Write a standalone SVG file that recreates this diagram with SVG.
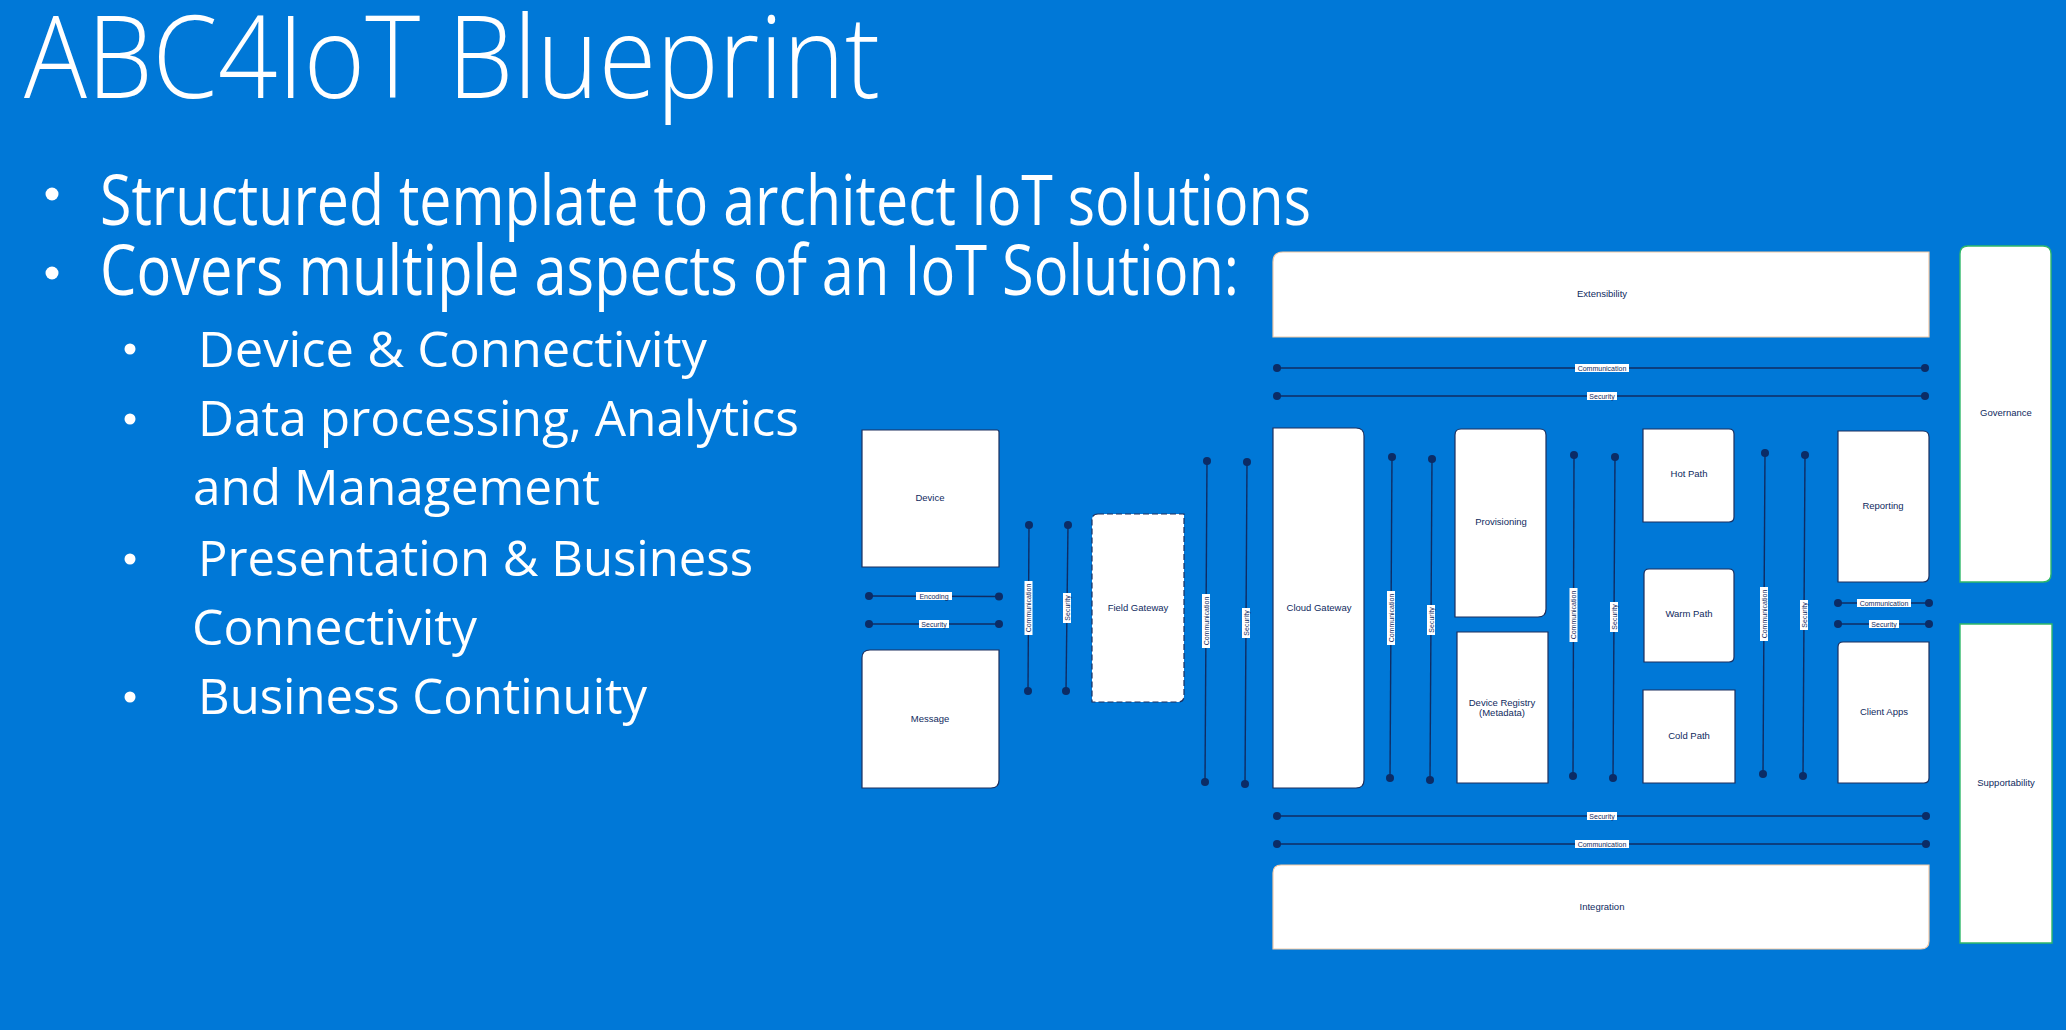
<svg xmlns="http://www.w3.org/2000/svg" width="2066" height="1030" viewBox="0 0 2066 1030">
<style>
.ttl{font-family:"Open Sans","Segoe UI","Liberation Sans",sans-serif;font-weight:300;fill:#ffffff}
.bul{font-family:"Open Sans","Segoe UI","Liberation Sans",sans-serif;font-weight:400;fill:#ffffff}
.box{fill:#ffffff;stroke:#1c2f5e;stroke-width:1.2}
.band{fill:#ffffff;stroke:#f2c9a6;stroke-width:1.2}
.side{fill:#ffffff;stroke:#2fb86a;stroke-width:1.4}
.dash{stroke-dasharray:6 3}
.lbl{font-family:"Liberation Sans",Arial,sans-serif;font-size:9.5px;fill:#0f2a5e;text-anchor:middle}
.ln{stroke:#0f2c63;stroke-width:1.4;fill:none}
.dot{fill:#0b2c66}
.cl{fill:#ffffff}
.ct{font-family:"Liberation Sans",Arial,sans-serif;font-size:7px;fill:#0f2a5e;text-anchor:middle}
</style>
<rect x="0" y="0" width="2066" height="1030" fill="#0078d7"/>
<g id="title">
<text class="ttl" x="24" y="98" font-size="114" textLength="856" lengthAdjust="spacingAndGlyphs">ABC4IoT Blueprint</text>
</g>
<g id="bullets">
<circle cx="52" cy="194" r="6.5" fill="#fff"/>
<circle cx="52" cy="273" r="6.5" fill="#fff"/>
<circle cx="130" cy="349" r="5.5" fill="#fff"/>
<circle cx="130" cy="419" r="5.5" fill="#fff"/>
<circle cx="130" cy="559" r="5.5" fill="#fff"/>
<circle cx="130" cy="697" r="5.5" fill="#fff"/>
<text class="bul" x="100" y="225" font-size="70" textLength="1211" lengthAdjust="spacingAndGlyphs">Structured template to architect IoT solutions</text>
<text class="bul" x="100" y="295" font-size="70" textLength="1139" lengthAdjust="spacingAndGlyphs">Covers multiple aspects of an IoT Solution:</text>
<text class="bul" x="198" y="367" font-size="49" textLength="509" lengthAdjust="spacingAndGlyphs">Device &amp; Connectivity</text>
<text class="bul" x="198" y="436" font-size="49" textLength="601" lengthAdjust="spacingAndGlyphs">Data processing, Analytics</text>
<text class="bul" x="193" y="505" font-size="49" textLength="407" lengthAdjust="spacingAndGlyphs">and Management</text>
<text class="bul" x="198" y="576" font-size="49" textLength="555" lengthAdjust="spacingAndGlyphs">Presentation &amp; Business</text>
<text class="bul" x="192" y="645" font-size="49" textLength="285" lengthAdjust="spacingAndGlyphs">Connectivity</text>
<text class="bul" x="198" y="714" font-size="49" textLength="449" lengthAdjust="spacingAndGlyphs">Business Continuity</text>
</g>
<g id="connectors">
<g><line class="ln" x1="869" y1="596" x2="999" y2="596.5"/><circle class="dot" cx="869" cy="596" r="4"/><circle class="dot" cx="999" cy="596.5" r="4"/><rect class="cl" x="916" y="592" width="36" height="8"/><text class="ct" x="934" y="598.5">Encoding</text></g>
<g><line class="ln" x1="869" y1="624" x2="999" y2="624"/><circle class="dot" cx="869" cy="624" r="4"/><circle class="dot" cx="999" cy="624" r="4"/><rect class="cl" x="919" y="620" width="30" height="8"/><text class="ct" x="934" y="626.5">Security</text></g>
<g><line class="ln" x1="1277" y1="368" x2="1925" y2="368"/><circle class="dot" cx="1277" cy="368" r="4"/><circle class="dot" cx="1925" cy="368" r="4"/><rect class="cl" x="1575" y="364" width="54" height="8"/><text class="ct" x="1602" y="370.5">Communication</text></g>
<g><line class="ln" x1="1277" y1="396" x2="1925" y2="396"/><circle class="dot" cx="1277" cy="396" r="4"/><circle class="dot" cx="1925" cy="396" r="4"/><rect class="cl" x="1587" y="392" width="30" height="8"/><text class="ct" x="1602" y="398.5">Security</text></g>
<g><line class="ln" x1="1838" y1="603" x2="1929" y2="603"/><circle class="dot" cx="1838" cy="603" r="4"/><circle class="dot" cx="1929" cy="603" r="4"/><rect class="cl" x="1857" y="599" width="54" height="8"/><text class="ct" x="1884" y="605.5">Communication</text></g>
<g><line class="ln" x1="1838" y1="624" x2="1929" y2="624"/><circle class="dot" cx="1838" cy="624" r="4"/><circle class="dot" cx="1929" cy="624" r="4"/><rect class="cl" x="1869" y="620" width="30" height="8"/><text class="ct" x="1884" y="626.5">Security</text></g>
<g><line class="ln" x1="1277" y1="816" x2="1926" y2="816"/><circle class="dot" cx="1277" cy="816" r="4"/><circle class="dot" cx="1926" cy="816" r="4"/><rect class="cl" x="1587" y="812" width="30" height="8"/><text class="ct" x="1602" y="818.5">Security</text></g>
<g><line class="ln" x1="1277" y1="844" x2="1926" y2="844"/><circle class="dot" cx="1277" cy="844" r="4"/><circle class="dot" cx="1926" cy="844" r="4"/><rect class="cl" x="1575" y="840" width="54" height="8"/><text class="ct" x="1602" y="846.5">Communication</text></g>
<g><line class="ln" x1="1029" y1="525" x2="1028" y2="691"/><circle class="dot" cx="1029" cy="525" r="4"/><circle class="dot" cx="1028" cy="691" r="4"/><g transform="rotate(-90 1028.5 608)"><rect class="cl" x="1001.5" y="604" width="54" height="8"/><text class="ct" x="1028.5" y="610.5">Communication</text></g></g>
<g><line class="ln" x1="1068" y1="525" x2="1066" y2="691"/><circle class="dot" cx="1068" cy="525" r="4"/><circle class="dot" cx="1066" cy="691" r="4"/><g transform="rotate(-90 1067 608)"><rect class="cl" x="1052" y="604" width="30" height="8"/><text class="ct" x="1067" y="610.5">Security</text></g></g>
<g><line class="ln" x1="1207" y1="461" x2="1205" y2="782"/><circle class="dot" cx="1207" cy="461" r="4"/><circle class="dot" cx="1205" cy="782" r="4"/><g transform="rotate(-90 1206 621)"><rect class="cl" x="1179" y="617" width="54" height="8"/><text class="ct" x="1206" y="623.5">Communication</text></g></g>
<g><line class="ln" x1="1247" y1="462" x2="1245" y2="784"/><circle class="dot" cx="1247" cy="462" r="4"/><circle class="dot" cx="1245" cy="784" r="4"/><g transform="rotate(-90 1246 623)"><rect class="cl" x="1231" y="619" width="30" height="8"/><text class="ct" x="1246" y="625.5">Security</text></g></g>
<g><line class="ln" x1="1392" y1="457" x2="1390" y2="778"/><circle class="dot" cx="1392" cy="457" r="4"/><circle class="dot" cx="1390" cy="778" r="4"/><g transform="rotate(-90 1391 618)"><rect class="cl" x="1364" y="614" width="54" height="8"/><text class="ct" x="1391" y="620.5">Communication</text></g></g>
<g><line class="ln" x1="1432" y1="459" x2="1430" y2="780"/><circle class="dot" cx="1432" cy="459" r="4"/><circle class="dot" cx="1430" cy="780" r="4"/><g transform="rotate(-90 1431 620)"><rect class="cl" x="1416" y="616" width="30" height="8"/><text class="ct" x="1431" y="622.5">Security</text></g></g>
<g><line class="ln" x1="1574" y1="455" x2="1573" y2="776"/><circle class="dot" cx="1574" cy="455" r="4"/><circle class="dot" cx="1573" cy="776" r="4"/><g transform="rotate(-90 1573.5 615)"><rect class="cl" x="1546.5" y="611" width="54" height="8"/><text class="ct" x="1573.5" y="617.5">Communication</text></g></g>
<g><line class="ln" x1="1615" y1="457" x2="1613" y2="778"/><circle class="dot" cx="1615" cy="457" r="4"/><circle class="dot" cx="1613" cy="778" r="4"/><g transform="rotate(-90 1614 617)"><rect class="cl" x="1599" y="613" width="30" height="8"/><text class="ct" x="1614" y="619.5">Security</text></g></g>
<g><line class="ln" x1="1765" y1="453" x2="1763" y2="774"/><circle class="dot" cx="1765" cy="453" r="4"/><circle class="dot" cx="1763" cy="774" r="4"/><g transform="rotate(-90 1764 614)"><rect class="cl" x="1737" y="610" width="54" height="8"/><text class="ct" x="1764" y="616.5">Communication</text></g></g>
<g><line class="ln" x1="1805" y1="455" x2="1803" y2="776"/><circle class="dot" cx="1805" cy="455" r="4"/><circle class="dot" cx="1803" cy="776" r="4"/><g transform="rotate(-90 1804 615)"><rect class="cl" x="1789" y="611" width="30" height="8"/><text class="ct" x="1804" y="617.5">Security</text></g></g>
</g>
<g id="device"><path class="box" d="M862,430 H997 Q999,430 999,432 V567 H862 Z"/><text class="lbl" x="930" y="501">Device</text></g>
<g id="message"><path class="box" d="M870,650 H999 V780 Q999,788 991,788 H862 V658 Q862,650 870,650 Z"/><text class="lbl" x="930" y="722">Message</text></g>
<g id="field-gateway"><path class="box dash" d="M1098,514 H1184 V696 Q1184,702 1178,702 H1092 V520 Q1092,514 1098,514 Z"/><text class="lbl" x="1138" y="611">Field Gateway</text></g>
<g id="cloud-gateway"><path class="box" d="M1273,428 H1356 Q1364,428 1364,436 V780 Q1364,788 1356,788 H1273 Z"/><text class="lbl" x="1319" y="611">Cloud Gateway</text></g>
<g id="provisioning"><path class="box" d="M1461,429 H1540 Q1546,429 1546,435 V609 Q1546,617 1538,617 H1455 V435 Q1455,429 1461,429 Z"/><text class="lbl" x="1501" y="525">Provisioning</text></g>
<g id="device-registry"><path class="box" d="M1457,632 H1548 V783 H1457 Z"/><text class="lbl" x="1502" y="706">Device Registry</text><text class="lbl" x="1502" y="716">(Metadata)</text></g>
<g id="hot-path"><path class="box" d="M1643,429 H1729 Q1734,429 1734,434 V517 Q1734,522 1729,522 H1643 Z"/><text class="lbl" x="1689" y="477">Hot Path</text></g>
<g id="warm-path"><path class="box" d="M1649,569 H1729 Q1734,569 1734,574 V657 Q1734,662 1729,662 H1644 V574 Q1644,569 1649,569 Z"/><text class="lbl" x="1689" y="617">Warm Path</text></g>
<g id="cold-path"><path class="box" d="M1643,690 H1735 V783 H1643 Z"/><text class="lbl" x="1689" y="739">Cold Path</text></g>
<g id="reporting"><path class="box" d="M1838,431 H1923 Q1929,431 1929,437 V576 Q1929,582 1923,582 H1838 Z"/><text class="lbl" x="1883" y="509">Reporting</text></g>
<g id="client-apps"><path class="box" d="M1843,642 H1929 V778 Q1929,783 1924,783 H1838 V647 Q1838,642 1843,642 Z"/><text class="lbl" x="1884" y="715">Client Apps</text></g>
<g id="governance"><path class="side" d="M1968,246 H2043 Q2051,246 2051,254 V574 Q2051,582 2043,582 H1960 V254 Q1960,246 1968,246 Z"/><text class="lbl" x="2006" y="416">Governance</text></g>
<g id="supportability"><path class="side" d="M1960,624 H2052 V943 H1960 Z"/><text class="lbl" x="2006" y="786">Supportability</text></g>
<g id="extensibility"><path class="band" d="M1283,252 H1929 V337 H1273 V262 Q1273,252 1283,252 Z"/><text class="lbl" x="1602" y="297">Extensibility</text></g>
<g id="integration"><path class="band" d="M1281,865 H1929 V941 Q1929,949 1921,949 H1273 V873 Q1273,865 1281,865 Z"/><text class="lbl" x="1602" y="910">Integration</text></g>
</svg>
